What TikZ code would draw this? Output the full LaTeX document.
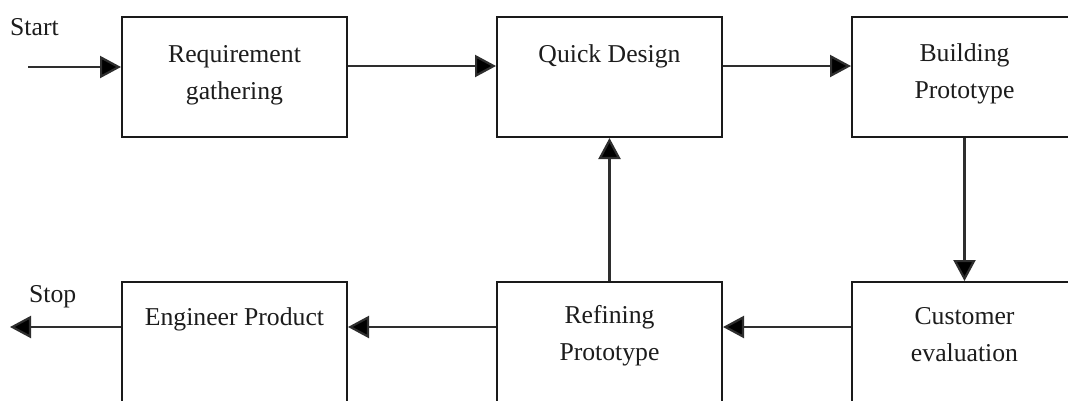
\documentclass[tikz,border=0pt]{standalone}
\usepackage{fontspec}
\setmainfont{Liberation Serif}
\usetikzlibrary{arrows.meta}
\definecolor{boxline}{HTML}{1A1A1A}
\definecolor{arrowline}{HTML}{2E2E2E}
\definecolor{txt}{HTML}{1C1C1C}
\begin{document}
\begin{tikzpicture}[x=1pt,y=-1pt,
  box/.style={draw=boxline, line width=2pt, minimum width=225pt, minimum height=120pt, inner sep=0pt},
  lbl/.style={font=\fontsize{25.7}{37}\selectfont, align=center, inner sep=0pt, anchor=base, text=txt},
  flow/.style={draw=arrowline, line width=2.2pt, -{Triangle[length=21pt,width=22pt,fill=black]}},
]
\fill[white] (0,0) rectangle (1068,400);
\useasboundingbox (0,0) rectangle (1068,400);
\clip (0,0) rectangle (1068,400);

% process boxes
\node[box] (req)  at (234.5,77)  {};
\node[box] (qd)   at (609.5,77)  {};
\node[box] (bld)  at (964.5,77)  {};
\node[box] (eng)  at (234.5,342) {};
\node[box] (ref)  at (609.5,342) {};
\node[box] (cust) at (964.5,342) {};

% box labels near the top of each box (base = baseline of the last line)
\node[lbl] (reqT)  at (234.5,99)  {Requirement\\gathering};
\node[lbl] (qdT)   at (609.5,62)  {Quick Design};
\node[lbl] (bldT)  at (964.5,98)  {Building\\Prototype};
\node[lbl] (engT)  at (234.5,325) {Engineer Product};
\node[lbl] (refT)  at (609.5,360) {Refining\\Prototype};
\node[lbl] (custT) at (964.5,361) {Customer\\evaluation};

% start / stop labels
\node[lbl, anchor=base west] (startT) at (10,35)  {Start};
\node[lbl, anchor=base west] (stopT)  at (29,302) {Stop};

% free ends of the entry and exit arrows
\coordinate (start) at (28,67);
\coordinate (stop)  at (10,327);

% connectors
\draw[flow] (start) -- (start -| req.west);
\draw[flow] ([yshift=-50pt]req.north east) -- ([yshift=-50pt]qd.north west);
\draw[flow] ([yshift=-50pt]qd.north east) -- ([yshift=-50pt]bld.north west);
\draw[flow] (bld.south) -- (cust.north);
\draw[flow] ([yshift=-46pt]cust.north west) -- ([yshift=-46pt]ref.north east);
\draw[flow] (ref.north) -- (qd.south);
\draw[flow] ([yshift=-46pt]ref.north west) -- ([yshift=-46pt]eng.north east);
\draw[flow] (stop -| eng.west) -- (stop);
\end{tikzpicture}
\end{document}
